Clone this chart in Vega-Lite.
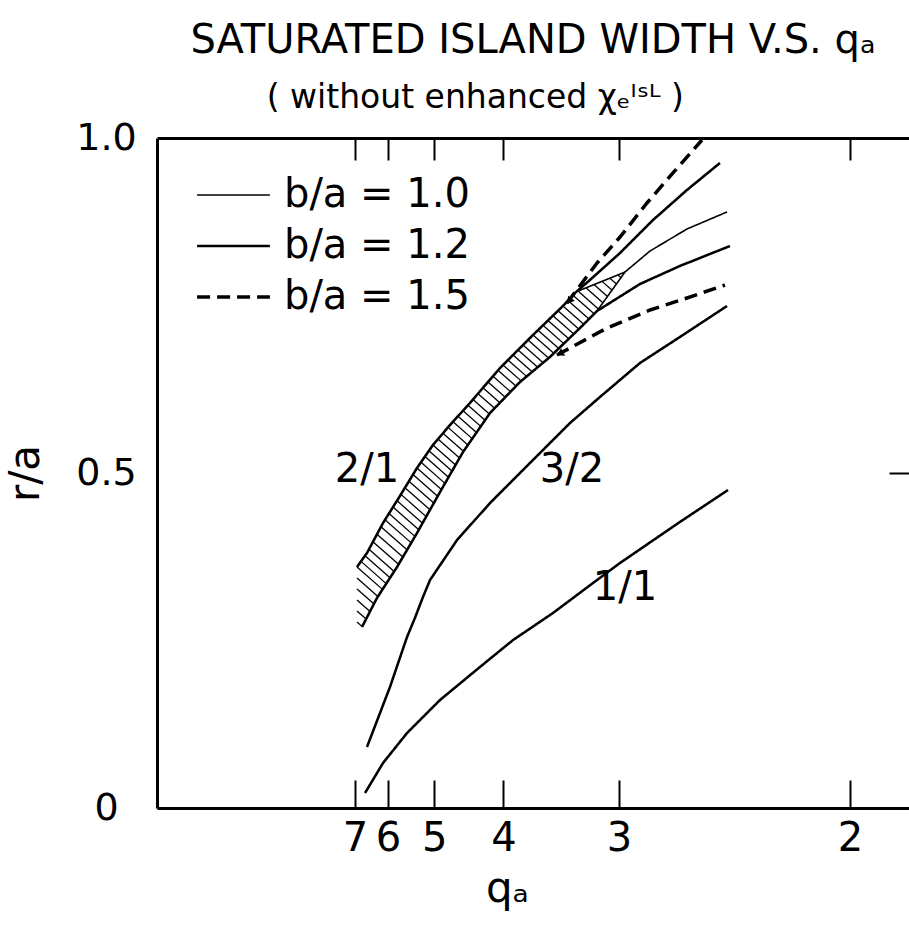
{
  "$schema": "https://vega.github.io/schema/vega-lite/v6.json",
  "width": 752,
  "height": 670,
  "autosize": {"type": "none"},
  "padding": {"left": 157, "top": 138, "right": 0, "bottom": 120},
  "background": "white",
  "config": {
    "font": "DejaVu Sans",
    "view": {"stroke": null},
    "axis": {
      "grid": false,
      "domainColor": "black",
      "domainWidth": 3,
      "tickColor": "black",
      "tickWidth": 2,
      "labelColor": "black",
      "titleColor": "black",
      "labelFont": "DejaVu Sans",
      "titleFont": "DejaVu Sans",
      "labelFontWeight": "normal",
      "titleFontWeight": "normal",
      "labelOverlap": false,
      "labelFlush": false,
      "labelBound": false
    }
  },
  "title": {
    "text": "SATURATED ISLAND WIDTH V.S. qₐ",
    "subtitle": "( without enhanced χₑᴵˢᴸ )\u00a0\u00a0\u00a0\u00a0\u00a0\u00a0\u00a0\u00a0\u00a0\u00a0\u00a0\u200b",
    "font": "DejaVu Sans",
    "fontSize": 40,
    "fontWeight": "normal",
    "color": "black",
    "subtitleFont": "DejaVu Sans",
    "subtitleFontSize": 33,
    "subtitleColor": "black",
    "anchor": "middle",
    "frame": "group",
    "offset": 4,
    "subtitlePadding": 21
  },
  "datasets": {
    "hatch": [
      {"x": 0.1443, "y": 0.3597, "x2": 0.1627, "y2": 0.3263},
      {"x": 0.1472, "y": 0.3681, "x2": 0.1654, "y2": 0.3349},
      {"x": 0.1501, "y": 0.3764, "x2": 0.1681, "y2": 0.3436},
      {"x": 0.1530, "y": 0.3862, "x2": 0.1711, "y2": 0.3531},
      {"x": 0.1558, "y": 0.3974, "x2": 0.1743, "y2": 0.3637},
      {"x": 0.1587, "y": 0.4086, "x2": 0.1774, "y2": 0.3746},
      {"x": 0.1616, "y": 0.4198, "x2": 0.1804, "y2": 0.3855},
      {"x": 0.1645, "y": 0.4301, "x2": 0.1834, "y2": 0.3957},
      {"x": 0.1674, "y": 0.4396, "x2": 0.1861, "y2": 0.4054},
      {"x": 0.1703, "y": 0.4491, "x2": 0.1889, "y2": 0.4152},
      {"x": 0.1732, "y": 0.4585, "x2": 0.1916, "y2": 0.4251},
      {"x": 0.1760, "y": 0.4681, "x2": 0.1942, "y2": 0.4349},
      {"x": 0.1789, "y": 0.4779, "x2": 0.1970, "y2": 0.4451},
      {"x": 0.1818, "y": 0.4878, "x2": 0.1997, "y2": 0.4552},
      {"x": 0.1847, "y": 0.4976, "x2": 0.2025, "y2": 0.4654},
      {"x": 0.1876, "y": 0.5075, "x2": 0.2052, "y2": 0.4754},
      {"x": 0.1905, "y": 0.5160, "x2": 0.2078, "y2": 0.4845},
      {"x": 0.1934, "y": 0.5246, "x2": 0.2103, "y2": 0.4937},
      {"x": 0.1962, "y": 0.5332, "x2": 0.2128, "y2": 0.5030},
      {"x": 0.1991, "y": 0.5418, "x2": 0.2154, "y2": 0.5121},
      {"x": 0.2027, "y": 0.5506, "x2": 0.2183, "y2": 0.5224},
      {"x": 0.2063, "y": 0.5594, "x2": 0.2211, "y2": 0.5325},
      {"x": 0.2100, "y": 0.5681, "x2": 0.2243, "y2": 0.5419},
      {"x": 0.2136, "y": 0.5766, "x2": 0.2274, "y2": 0.5513},
      {"x": 0.2172, "y": 0.5848, "x2": 0.2305, "y2": 0.5604},
      {"x": 0.2208, "y": 0.5930, "x2": 0.2336, "y2": 0.5696},
      {"x": 0.2244, "y": 0.6012, "x2": 0.2367, "y2": 0.5788},
      {"x": 0.2280, "y": 0.6097, "x2": 0.2398, "y2": 0.5882},
      {"x": 0.2316, "y": 0.6184, "x2": 0.2436, "y2": 0.5966},
      {"x": 0.2352, "y": 0.6272, "x2": 0.2474, "y2": 0.6049},
      {"x": 0.2388, "y": 0.6358, "x2": 0.2513, "y2": 0.6131},
      {"x": 0.2424, "y": 0.6445, "x2": 0.2551, "y2": 0.6213},
      {"x": 0.2460, "y": 0.6533, "x2": 0.2590, "y2": 0.6297},
      {"x": 0.2496, "y": 0.6612, "x2": 0.2627, "y2": 0.6375},
      {"x": 0.2532, "y": 0.6687, "x2": 0.2667, "y2": 0.6442},
      {"x": 0.2569, "y": 0.6761, "x2": 0.2706, "y2": 0.6510},
      {"x": 0.2605, "y": 0.6836, "x2": 0.2747, "y2": 0.6578},
      {"x": 0.2641, "y": 0.6910, "x2": 0.2786, "y2": 0.6646},
      {"x": 0.2677, "y": 0.6985, "x2": 0.2825, "y2": 0.6715},
      {"x": 0.2713, "y": 0.7060, "x2": 0.2863, "y2": 0.6787},
      {"x": 0.2749, "y": 0.7131, "x2": 0.2899, "y2": 0.6858},
      {"x": 0.2785, "y": 0.7204, "x2": 0.2935, "y2": 0.6931},
      {"x": 0.2821, "y": 0.7276, "x2": 0.2971, "y2": 0.7003},
      {"x": 0.2857, "y": 0.7348, "x2": 0.3007, "y2": 0.7075},
      {"x": 0.2893, "y": 0.7421, "x2": 0.3043, "y2": 0.7148},
      {"x": 0.2929, "y": 0.7493, "x2": 0.3079, "y2": 0.7219},
      {"x": 0.2965, "y": 0.7573, "x2": 0.3117, "y2": 0.7297},
      {"x": 0.3001, "y": 0.7654, "x2": 0.3154, "y2": 0.7376},
      {"x": 0.3038, "y": 0.7716, "x2": 0.3187, "y2": 0.7443},
      {"x": 0.3095, "y": 0.7764, "x2": 0.3217, "y2": 0.7542},
      {"x": 0.3153, "y": 0.7812, "x2": 0.3250, "y2": 0.7636},
      {"x": 0.3211, "y": 0.7860, "x2": 0.3282, "y2": 0.7730},
      {"x": 0.3268, "y": 0.7907, "x2": 0.3315, "y2": 0.7822},
      {"x": 0.3326, "y": 0.7955, "x2": 0.3347, "y2": 0.7916},
      {"x": 0.1443, "y": 0.3433, "x2": 0.1594, "y2": 0.3158},
      {"x": 0.1443, "y": 0.3269, "x2": 0.1566, "y2": 0.3045},
      {"x": 0.1443, "y": 0.3104, "x2": 0.1537, "y2": 0.2933},
      {"x": 0.1443, "y": 0.2940, "x2": 0.1509, "y2": 0.2821},
      {"x": 0.1443, "y": 0.2776, "x2": 0.1481, "y2": 0.2707}
    ],
    "curves": [
      {"curve": "1/1", "ba": "1.2", "inv_q": 0.1501, "r": 0.0224},
      {"curve": "1/1", "ba": "1.2", "inv_q": 0.1631, "r": 0.0672},
      {"curve": "1/1", "ba": "1.2", "inv_q": 0.1804, "r": 0.1119},
      {"curve": "1/1", "ba": "1.2", "inv_q": 0.2042, "r": 0.1612},
      {"curve": "1/1", "ba": "1.2", "inv_q": 0.2330, "r": 0.2104},
      {"curve": "1/1", "ba": "1.2", "inv_q": 0.2569, "r": 0.2507},
      {"curve": "1/1", "ba": "1.2", "inv_q": 0.2857, "r": 0.2910},
      {"curve": "1/1", "ba": "1.2", "inv_q": 0.3146, "r": 0.3358},
      {"curve": "1/1", "ba": "1.2", "inv_q": 0.3341, "r": 0.3657},
      {"curve": "1/1", "ba": "1.2", "inv_q": 0.3773, "r": 0.4269},
      {"curve": "1/1", "ba": "1.2", "inv_q": 0.4120, "r": 0.4746},

      {"curve": "3/2", "ba": "1.2", "inv_q": 0.1515, "r": 0.0910},
      {"curve": "3/2", "ba": "1.2", "inv_q": 0.1681, "r": 0.1806},
      {"curve": "3/2", "ba": "1.2", "inv_q": 0.1804, "r": 0.2552},
      {"curve": "3/2", "ba": "1.2", "inv_q": 0.1861, "r": 0.2836},
      {"curve": "3/2", "ba": "1.2", "inv_q": 0.1919, "r": 0.3149},
      {"curve": "3/2", "ba": "1.2", "inv_q": 0.1970, "r": 0.3403},
      {"curve": "3/2", "ba": "1.2", "inv_q": 0.2165, "r": 0.4000},
      {"curve": "3/2", "ba": "1.2", "inv_q": 0.2403, "r": 0.4552},
      {"curve": "3/2", "ba": "1.2", "inv_q": 0.2691, "r": 0.5149},
      {"curve": "3/2", "ba": "1.2", "inv_q": 0.2980, "r": 0.5746},
      {"curve": "3/2", "ba": "1.2", "inv_q": 0.3196, "r": 0.6134},
      {"curve": "3/2", "ba": "1.2", "inv_q": 0.3485, "r": 0.6642},
      {"curve": "3/2", "ba": "1.2", "inv_q": 0.3773, "r": 0.7030},
      {"curve": "3/2", "ba": "1.2", "inv_q": 0.4113, "r": 0.7493},

      {"curve": "2/1 outer", "ba": "1.2", "inv_q": 0.1443, "r": 0.3597},
      {"curve": "2/1 outer", "ba": "1.2", "inv_q": 0.1515, "r": 0.3806},
      {"curve": "2/1 outer", "ba": "1.2", "inv_q": 0.1631, "r": 0.4254},
      {"curve": "2/1 outer", "ba": "1.2", "inv_q": 0.1753, "r": 0.4657},
      {"curve": "2/1 outer", "ba": "1.2", "inv_q": 0.1876, "r": 0.5075},
      {"curve": "2/1 outer", "ba": "1.2", "inv_q": 0.1991, "r": 0.5418},
      {"curve": "2/1 outer", "ba": "1.2", "inv_q": 0.2114, "r": 0.5716},
      {"curve": "2/1 outer", "ba": "1.2", "inv_q": 0.2258, "r": 0.6045},
      {"curve": "2/1 outer", "ba": "1.2", "inv_q": 0.2475, "r": 0.6567},
      {"curve": "2/1 outer", "ba": "1.2", "inv_q": 0.2713, "r": 0.7060},
      {"curve": "2/1 outer", "ba": "1.2", "inv_q": 0.2929, "r": 0.7493},
      {"curve": "2/1 outer", "ba": "1.2", "inv_q": 0.3016, "r": 0.7687},
      {"curve": "2/1 outer", "ba": "1.2", "inv_q": 0.3124, "r": 0.7881},
      {"curve": "2/1 outer", "ba": "1.2", "inv_q": 0.3341, "r": 0.8284},
      {"curve": "2/1 outer", "ba": "1.2", "inv_q": 0.3579, "r": 0.8776},
      {"curve": "2/1 outer", "ba": "1.2", "inv_q": 0.3824, "r": 0.9224},
      {"curve": "2/1 outer", "ba": "1.2", "inv_q": 0.4062, "r": 0.9627},

      {"curve": "2/1 inner", "ba": "1.2", "inv_q": 0.1479, "r": 0.2701},
      {"curve": "2/1 inner", "ba": "1.2", "inv_q": 0.1587, "r": 0.3134},
      {"curve": "2/1 inner", "ba": "1.2", "inv_q": 0.1732, "r": 0.3597},
      {"curve": "2/1 inner", "ba": "1.2", "inv_q": 0.1876, "r": 0.4104},
      {"curve": "2/1 inner", "ba": "1.2", "inv_q": 0.2042, "r": 0.4716},
      {"curve": "2/1 inner", "ba": "1.2", "inv_q": 0.2208, "r": 0.5313},
      {"curve": "2/1 inner", "ba": "1.2", "inv_q": 0.2403, "r": 0.5896},
      {"curve": "2/1 inner", "ba": "1.2", "inv_q": 0.2619, "r": 0.6358},
      {"curve": "2/1 inner", "ba": "1.2", "inv_q": 0.2835, "r": 0.6731},
      {"curve": "2/1 inner", "ba": "1.2", "inv_q": 0.3052, "r": 0.7164},
      {"curve": "2/1 inner", "ba": "1.2", "inv_q": 0.3175, "r": 0.7418},
      {"curve": "2/1 inner", "ba": "1.2", "inv_q": 0.3485, "r": 0.7821},
      {"curve": "2/1 inner", "ba": "1.2", "inv_q": 0.3773, "r": 0.8090},
      {"curve": "2/1 inner", "ba": "1.2", "inv_q": 0.4134, "r": 0.8388},

      {"curve": "2/1 thin outer", "ba": "1.0", "inv_q": 0.3038, "r": 0.7716},
      {"curve": "2/1 thin outer", "ba": "1.0", "inv_q": 0.3377, "r": 0.8000},
      {"curve": "2/1 thin outer", "ba": "1.0", "inv_q": 0.3557, "r": 0.8313},
      {"curve": "2/1 thin outer", "ba": "1.0", "inv_q": 0.3824, "r": 0.8642},
      {"curve": "2/1 thin outer", "ba": "1.0", "inv_q": 0.4113, "r": 0.8896},

      {"curve": "2/1 thin inner", "ba": "1.0", "inv_q": 0.3175, "r": 0.7418},
      {"curve": "2/1 thin inner", "ba": "1.0", "inv_q": 0.3377, "r": 0.8000},

      {"curve": "2/1 dashed outer", "ba": "1.5", "inv_q": 0.2958, "r": 0.7537},
      {"curve": "2/1 dashed outer", "ba": "1.5", "inv_q": 0.3175, "r": 0.8134},
      {"curve": "2/1 dashed outer", "ba": "1.5", "inv_q": 0.3341, "r": 0.8522},
      {"curve": "2/1 dashed outer", "ba": "1.5", "inv_q": 0.3535, "r": 0.9030},
      {"curve": "2/1 dashed outer", "ba": "1.5", "inv_q": 0.3723, "r": 0.9478},
      {"curve": "2/1 dashed outer", "ba": "1.5", "inv_q": 0.3932, "r": 0.9970},

      {"curve": "2/1 dashed inner", "ba": "1.5", "inv_q": 0.2886, "r": 0.6761},
      {"curve": "2/1 dashed inner", "ba": "1.5", "inv_q": 0.3247, "r": 0.7164},
      {"curve": "2/1 dashed inner", "ba": "1.5", "inv_q": 0.3557, "r": 0.7433},
      {"curve": "2/1 dashed inner", "ba": "1.5", "inv_q": 0.3824, "r": 0.7612},
      {"curve": "2/1 dashed inner", "ba": "1.5", "inv_q": 0.4098, "r": 0.7806}
    ],
    "arrows": [
      {"curve": "2/1 dashed outer", "inv_q": 0.2980, "r": 0.7580},
      {"curve": "2/1 dashed inner", "inv_q": 0.2915, "r": 0.6790}
    ],
    "labels": [
      {"label": "2/1", "inv_q": 0.1515, "r": 0.5045},
      {"label": "3/2", "inv_q": 0.2994, "r": 0.5045},
      {"label": "1/1", "inv_q": 0.3377, "r": 0.3284}
    ]
  },
  "layer": [
    {
      "data": {"name": "hatch"},
      "mark": {"type": "rule", "color": "black", "strokeWidth": 1.3},
      "encoding": {
        "x": {
          "field": "x",
          "type": "quantitative",
          "scale": {"domain": [0, 0.5426], "nice": false, "zero": false},
          "axis": {
            "orient": "bottom",
            "values": [0.142857, 0.166667, 0.2, 0.25, 0.333333, 0.5],
            "labelExpr": "format(1 / datum.value, '.0f')",
            "labelAngle": 0,
            "tickSize": -28,
            "labelPadding": 38,
            "labelFontSize": 40,
            "title": "qₐ",
            "titleFontSize": 42,
            "titlePadding": 10,
            "titleX": 350,
            "titleAlign": "center"
          }
        },
        "x2": {"field": "x2"},
        "y": {
          "field": "y",
          "type": "quantitative",
          "scale": {"domain": [0, 1], "nice": false, "zero": false},
          "axis": {
            "orient": "left",
            "values": [0, 0.5, 1],
            "labelExpr": "datum.value == 0 ? '0' : format(datum.value, '.1f')",
            "ticks": false,
            "labelAlign": "center",
            "labelPadding": 51,
            "labelFontSize": 38,
            "title": "r/a",
            "titleFontSize": 42,
            "titlePadding": 28
          }
        },
        "y2": {"field": "y2"}
      }
    },
    {
      "data": {"name": "curves"},
      "mark": {"type": "line", "color": "black", "strokeCap": "butt", "strokeJoin": "round"},
      "encoding": {
        "x": {
          "field": "inv_q",
          "type": "quantitative",
          "scale": {"domain": [0, 0.5426], "nice": false, "zero": false},
          "axis": {
            "orient": "top",
            "values": [0.142857, 0.166667, 0.2, 0.25, 0.333333, 0.5],
            "labels": false,
            "tickSize": -22,
            "title": null
          }
        },
        "y": {
          "field": "r",
          "type": "quantitative",
          "scale": {"domain": [0, 1], "nice": false, "zero": false},
          "axis": {
            "orient": "right",
            "values": [0.5],
            "labels": false,
            "domain": false,
            "tickSize": -20,
            "title": null
          }
        },
        "detail": {"field": "curve", "type": "nominal"},
        "strokeWidth": {
          "field": "ba",
          "type": "ordinal",
          "scale": {"domain": ["1.0", "1.2", "1.5"], "range": [1.6, 3.5, 3.5]},
          "legend": {
            "title": null,
            "orient": "none",
            "legendX": 38,
            "legendY": 37,
            "padding": 0,
            "symbolType": "stroke",
            "symbolSize": 5300,
            "symbolStrokeColor": "black",
            "clipHeight": 40,
            "labelFont": "DejaVu Sans",
            "labelFontSize": 40,
            "labelColor": "black",
            "labelLimit": 0,
            "labelOffset": 12,
            "rowPadding": 11,
            "labelExpr": "'b/a = ' + datum.label"
          }
        },
        "strokeDash": {
          "field": "ba",
          "type": "ordinal",
          "scale": {"domain": ["1.0", "1.2", "1.5"], "range": [[1, 0], [1, 0], [13, 7]]},
          "legend": {
            "title": null,
            "orient": "none",
            "legendX": 38,
            "legendY": 37,
            "padding": 0,
            "symbolType": "stroke",
            "symbolSize": 5300,
            "symbolStrokeColor": "black",
            "clipHeight": 40,
            "labelFont": "DejaVu Sans",
            "labelFontSize": 40,
            "labelColor": "black",
            "labelLimit": 0,
            "labelOffset": 12,
            "rowPadding": 11,
            "labelExpr": "'b/a = ' + datum.label"
          }
        }
      }
    },
    {
      "data": {"name": "arrows"},
      "transform": [{"filter": "datum.curve == '2/1 dashed outer'"}],
      "mark": {"type": "point", "shape": "triangle", "filled": true, "color": "black", "size": 70, "angle": 217, "opacity": 1},
      "encoding": {
        "x": {"field": "inv_q", "type": "quantitative", "axis": null, "scale": {"domain": [0, 0.5426], "nice": false, "zero": false}},
        "y": {"field": "r", "type": "quantitative", "axis": null, "scale": {"domain": [0, 1], "nice": false, "zero": false}}
      }
    },
    {
      "data": {"name": "arrows"},
      "transform": [{"filter": "datum.curve == '2/1 dashed inner'"}],
      "mark": {"type": "point", "shape": "triangle", "filled": true, "color": "black", "size": 70, "angle": 242, "opacity": 1},
      "encoding": {
        "x": {"field": "inv_q", "type": "quantitative", "axis": null, "scale": {"domain": [0, 0.5426], "nice": false, "zero": false}},
        "y": {"field": "r", "type": "quantitative", "axis": null, "scale": {"domain": [0, 1], "nice": false, "zero": false}}
      }
    },
    {
      "data": {"name": "labels"},
      "mark": {"type": "text", "font": "DejaVu Sans", "fontSize": 40, "color": "black"},
      "encoding": {
        "x": {"field": "inv_q", "type": "quantitative", "axis": null, "scale": {"domain": [0, 0.5426], "nice": false, "zero": false}},
        "y": {"field": "r", "type": "quantitative", "axis": null, "scale": {"domain": [0, 1], "nice": false, "zero": false}},
        "text": {"field": "label"}
      }
    }
  ],
  "resolve": {"axis": {"x": "independent", "y": "independent"}}
}
